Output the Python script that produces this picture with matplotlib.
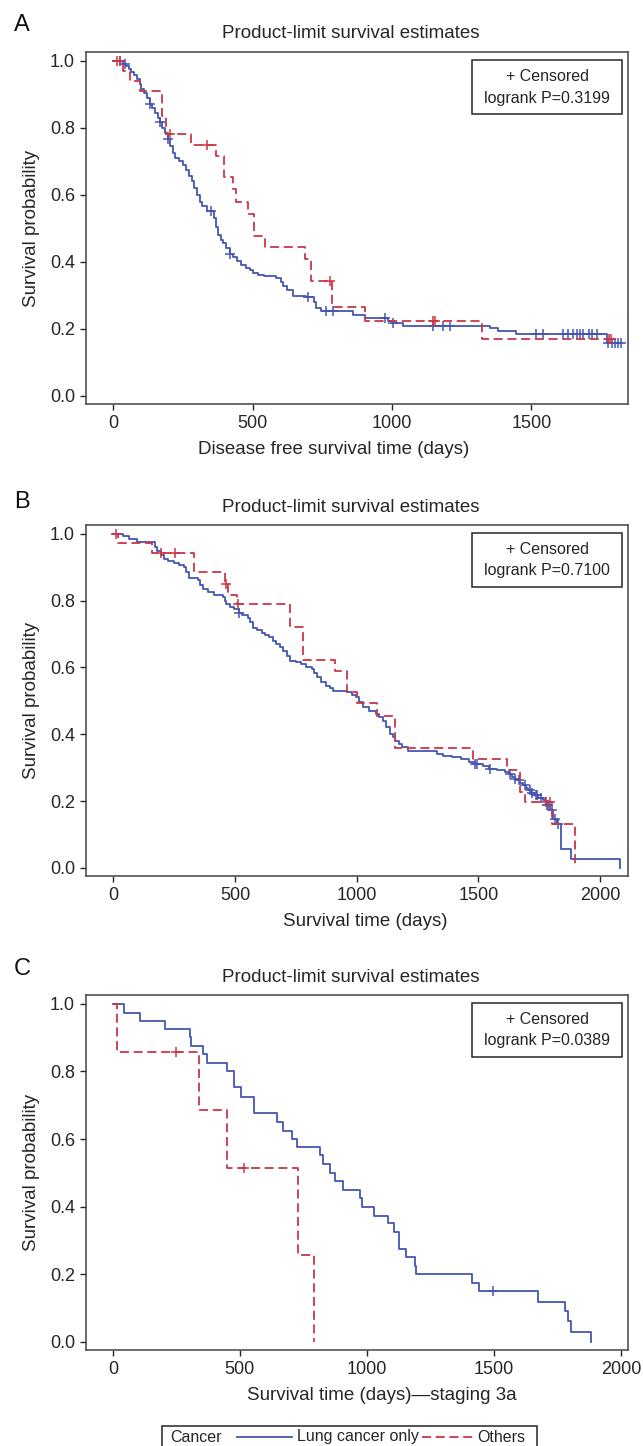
import numpy as np
import matplotlib.pyplot as plt
from matplotlib.patches import Rectangle
from matplotlib.lines import Line2D
from matplotlib.ticker import FormatStrFormatter

plt.rcParams['font.family'] = ['Liberation Sans', 'DejaVu Sans']

BLUE = '#4356b4'
RED = '#cc3646'
INK = '#262626'

# ---- panel A: disease free survival ----
a_lung_t = [36, 45, 55, 65, 74, 85, 95, 100, 110, 120, 131, 140, 150, 160, 166, 175, 185,
            195, 205, 213, 221, 235, 250, 262, 272, 281, 291, 300, 310, 317, 335, 360, 368,
            374, 385, 393, 405, 419, 430, 444, 460, 476, 490, 502, 520, 540, 585, 600, 610,
            625, 645, 690, 720, 728, 745, 860, 904, 985, 1000, 1038, 1351, 1382, 1446, 1772]
a_lung_s = [0.990, 0.985, 0.975, 0.965, 0.958, 0.945, 0.930, 0.915, 0.905, 0.890, 0.872,
            0.860, 0.845, 0.830, 0.818, 0.800, 0.785, 0.766, 0.745, 0.725, 0.710, 0.700,
            0.690, 0.675, 0.655, 0.640, 0.620, 0.600, 0.580, 0.567, 0.553, 0.530, 0.505,
            0.480, 0.465, 0.455, 0.440, 0.423, 0.415, 0.403, 0.390, 0.383, 0.375, 0.368,
            0.362, 0.358, 0.353, 0.340, 0.328, 0.315, 0.299, 0.294, 0.280, 0.262, 0.252,
            0.240, 0.232, 0.225, 0.218, 0.208, 0.202, 0.193, 0.186, 0.158]
a_lung_c = [23, 42, 131, 166, 195, 352, 419, 700, 763, 789, 974, 1005, 1146, 1182, 1210,
            1517, 1542, 1612, 1632, 1650, 1663, 1676, 1685, 1708, 1718, 1734, 1775, 1788,
            1800, 1812, 1823]
a_oth_t = [36, 61, 97, 174, 190, 278, 368, 396, 431, 440, 483, 504, 544, 687, 710, 786, 904, 1322]
a_oth_s = [0.970, 0.940, 0.910, 0.835, 0.780, 0.750, 0.716, 0.652, 0.617, 0.580, 0.543,
           0.478, 0.443, 0.408, 0.343, 0.265, 0.225, 0.170]
a_oth_c = [12, 23, 202, 336, 776, 1146, 1155, 1778, 1787]

# ---- panel B: overall survival ----
b_lung_t = [41, 63, 99, 170, 180, 195, 209, 225, 248, 270, 289, 300, 311, 347, 355, 369,
            390, 413, 450, 458, 464, 480, 494, 515, 530, 552, 562, 574, 590, 610, 625, 640,
            655, 669, 684, 698, 712, 727, 750, 771, 793, 815, 826, 837, 855, 873, 890, 902,
            961, 980, 997, 1010, 1026, 1050, 1078, 1092, 1107, 1120, 1136, 1148, 1158, 1172,
            1187, 1209, 1311, 1330, 1355, 1390, 1428, 1460, 1486, 1520, 1545, 1575, 1610,
            1625, 1639, 1650, 1661, 1672, 1683, 1694, 1705, 1716, 1727, 1745, 1764, 1778,
            1793, 1808, 1822, 1837, 1880, 2082]
b_lung_s = [0.993, 0.983, 0.976, 0.960, 0.948, 0.935, 0.923, 0.918, 0.913, 0.905, 0.900,
            0.885, 0.867, 0.861, 0.848, 0.834, 0.825, 0.817, 0.811, 0.800, 0.789, 0.782,
            0.774, 0.764, 0.757, 0.749, 0.735, 0.719, 0.711, 0.704, 0.697, 0.690, 0.680,
            0.670, 0.660, 0.650, 0.635, 0.620, 0.615, 0.610, 0.602, 0.595, 0.582, 0.570,
            0.557, 0.545, 0.537, 0.530, 0.525, 0.517, 0.510, 0.496, 0.481, 0.471, 0.461,
            0.451, 0.441, 0.421, 0.401, 0.391, 0.381, 0.371, 0.361, 0.351, 0.349, 0.342,
            0.336, 0.331, 0.326, 0.318, 0.311, 0.304, 0.297, 0.292, 0.287, 0.280, 0.272,
            0.267, 0.262, 0.255, 0.247, 0.240, 0.232, 0.225, 0.217, 0.210, 0.202, 0.187,
            0.172, 0.147, 0.132, 0.058, 0.028, 0.0]
b_lung_c = [518, 1486, 1494, 1548, 1630, 1650, 1668, 1690, 1712, 1720, 1735, 1742, 1756,
            1780, 1786, 1800, 1815, 1825]
b_oth_t = [19, 158, 330, 457, 472, 508, 727, 778, 910, 961, 1002, 1085, 1158, 1479, 1618,
           1672, 1691, 1800, 1895]
b_oth_s = [0.972, 0.943, 0.884, 0.849, 0.817, 0.789, 0.721, 0.622, 0.590, 0.525, 0.494,
           0.456, 0.359, 0.326, 0.294, 0.227, 0.197, 0.132, 0.0]
b_oth_c = [12, 194, 253, 464, 512, 1778, 1793]

# ---- panel C: overall survival, staging 3a ----
c_lung_t = [42, 106, 207, 303, 308, 354, 371, 450, 476, 506, 557, 646, 670, 705, 726, 817,
            828, 856, 873, 905, 971, 980, 1027, 1083, 1107, 1128, 1153, 1188, 1195, 1415,
            1440, 1674, 1779, 1793, 1804, 1881]
c_lung_s = [0.974, 0.949, 0.925, 0.902, 0.876, 0.851, 0.826, 0.802, 0.753, 0.725, 0.676,
            0.650, 0.625, 0.601, 0.575, 0.552, 0.525, 0.500, 0.476, 0.449, 0.425, 0.400,
            0.373, 0.351, 0.326, 0.275, 0.250, 0.225, 0.201, 0.175, 0.150, 0.119, 0.091,
            0.062, 0.029, 0.0]
c_lung_c = [1496]
c_oth_t = [15, 338, 450, 730, 793]
c_oth_s = [0.857, 0.686, 0.514, 0.257, 0.0]
c_oth_c = [249, 515]

titles = ['Product-limit survival estimates'] * 3
letters = ['A', 'B', 'C']
xlabels = ['Disease free survival time (days)', 'Survival time (days)',
           'Survival time (days)\u2014staging 3a']
pvalues = ['logrank P=0.3199', 'logrank P=0.7100', 'logrank P=0.0389']
xticks = [[0, 500, 1000, 1500], [0, 500, 1000, 1500, 2000], [0, 500, 1000, 1500, 2000]]
xlims = [(-98, 1847), (-112, 2114), (-106, 2028)]

W, H = 643, 1446
fig = plt.figure(figsize=(W / 100, H / 100), dpi=100)


def fx(x):
    return x / W


def fy(y):
    return 1 - y / H


def km(ax, t, s, cens, color, **kw):
    tt = np.r_[0, t]
    ss = np.r_[1.0, s]
    end = max(tt[-1], max(cens))
    ax.step(np.r_[tt, end], np.r_[ss, ss[-1]], where='post', color=color, lw=1.3, **kw)
    idx = np.searchsorted(tt, cens, side='right') - 1
    ax.plot(cens, ss[idx], '+', color=color, ms=7, mew=1.1, ls='none')


# axes top/bottom in pixels
boxes = [(52, 404), (525, 876), (995, 1350)]
title_x = 222
xlabel_x = [198, 283, 247]
letter_y = [25, 502, 969]
data = [(a_lung_t, a_lung_s, a_lung_c, a_oth_t, a_oth_s, a_oth_c),
        (b_lung_t, b_lung_s, b_lung_c, b_oth_t, b_oth_s, b_oth_c),
        (c_lung_t, c_lung_s, c_lung_c, c_oth_t, c_oth_s, c_oth_c)]

for i, (top, bot) in enumerate(boxes):
    ax = fig.add_axes([fx(86), fy(bot), fx(628) - fx(86), (bot - top) / H])
    lt, ls_, lc, ot, os_, oc = data[i]
    km(ax, lt, ls_, lc, BLUE)
    km(ax, ot, os_, oc, RED, dashes=(5, 2.6))
    ax.set_xlim(*xlims[i])
    ax.set_ylim(-0.024, 1.026)
    ax.set_xticks(xticks[i])
    ax.set_yticks([0, 0.2, 0.4, 0.6, 0.8, 1.0])
    ax.yaxis.set_major_formatter(FormatStrFormatter('%.1f'))
    ax.tick_params(direction='out', length=4.3, width=1, color=INK, labelsize=13,
                   labelcolor=INK, pad=3.6)
    for sp in ax.spines.values():
        sp.set_color('#444444')
        sp.set_linewidth(1.1)

    fig.text(fx(title_x), fy(top - 18), titles[i], fontsize=13.5, color=INK,
             ha='left', va='center')
    fig.text(fx(xlabel_x[i]), fy(bot + 46), xlabels[i], fontsize=13.5, color=INK,
             ha='left', va='center')
    fig.text(fx(32), fy((top + bot) / 2), 'Survival probability', fontsize=13.5,
             color=INK, rotation=90, ha='center', va='center')
    fig.text(fx(22), fy(letter_y[i]), letters[i], fontsize=17, color='#111111',
             ha='center', va='center')

    # censored / logrank box
    fig.add_artist(Rectangle((fx(472), fy(top + 62)), fx(150), 54.5 / H,
                             transform=fig.transFigure, fill=False, ec=INK, lw=1.1))
    fig.text(fx(547), fy(top + 24.5), '+ Censored', fontsize=11.5, color=INK,
             ha='center', va='center')
    fig.text(fx(547), fy(top + 46), pvalues[i], fontsize=11.5, color=INK,
             ha='center', va='center')

# bottom legend
fig.add_artist(Rectangle((fx(162), fy(1455)), fx(537 - 162), 29 / H,
                         transform=fig.transFigure, fill=False, ec=INK, lw=1.1))
ly = fy(1437)
fig.text(fx(170), ly, 'Cancer', fontsize=11.5, color=INK, ha='left', va='center')
fig.add_artist(Line2D([fx(237), fx(292)], [ly, ly], color=BLUE, lw=1.3,
                      transform=fig.transFigure))
fig.text(fx(297), ly, 'Lung cancer only', fontsize=11.5, color=INK, ha='left', va='center')
fig.add_artist(Line2D([fx(422), fx(474)], [ly, ly], color=RED, lw=1.3, dashes=(5, 2.6),
                      transform=fig.transFigure))
fig.text(fx(477), ly, 'Others', fontsize=11.5, color=INK, ha='left', va='center')

fig.savefig('out.png', dpi=100)
